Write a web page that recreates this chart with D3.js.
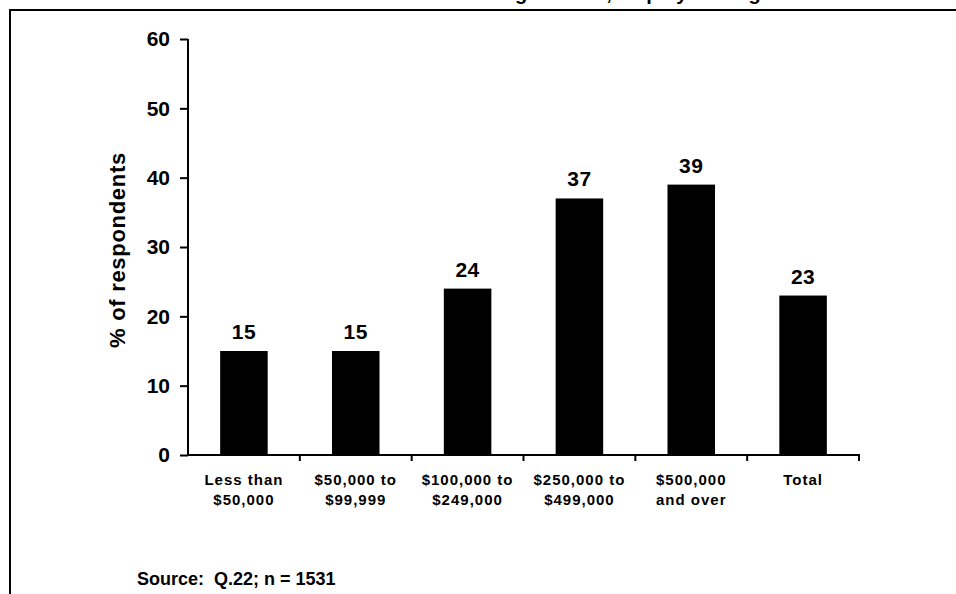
<!DOCTYPE html>
<html>
<head>
<meta charset="utf-8">
<script src="https://cdn.jsdelivr.net/npm/d3@7"></script>
<style>
  html, body { margin: 0; padding: 0; background: #fff; }
  svg { display: block; font-family: Arial, "Liberation Sans", sans-serif; font-weight: bold; }
</style>
</head>
<body>
<svg id="chart" width="956" height="594"></svg>
<script>
const categories = [
  ["Less than", "$50,000"],
  ["$50,000 to", "$99,999"],
  ["$100,000 to", "$249,000"],
  ["$250,000 to", "$499,000"],
  ["$500,000", "and over"],
  ["Total"]
];
const values = [15, 15, 24, 37, 39, 23];
const yTicks = [0, 10, 20, 30, 40, 50, 60];
const yTitle = "% of respondents";
const sourceText = "Source:  Q.22; n = 1531";
const titleText = "Percent using trainers, employer or agent";

(function () {
const svg = d3.select("#chart");
const W = 956, H = 594;
const mLeft = 188, mRight = 859, mTop = 39, mBottom = 455;

// frame
svg.append("path")
  .attr("d", `M${W + 10},10 H10 V${H + 10}`)
  .attr("fill", "none").attr("stroke", "#000").attr("stroke-width", 2);

// title (mostly above the visible area, as in the reference)
svg.append("text")
  .attr("x", 395).attr("y", 0)
  .attr("font-size", 20)
  .text(titleText);

const x = d3.scaleBand()
  .domain(d3.range(categories.length))
  .range([mLeft, mRight])
  .paddingInner(0.575)
  .paddingOuter(0.2875);

const y = d3.scaleLinear().domain([0, 60]).range([mBottom, mTop]);

// bars
svg.append("g").selectAll("rect")
  .data(values)
  .join("rect")
  .attr("x", (d, i) => x(i))
  .attr("width", x.bandwidth())
  .attr("y", d => y(d))
  .attr("height", d => y(0) - y(d))
  .attr("fill", "#000");

// value labels
svg.append("g").selectAll("text")
  .data(values)
  .join("text")
  .attr("x", (d, i) => x(i) + x.bandwidth() / 2)
  .attr("y", d => y(d) - 12)
  .attr("text-anchor", "middle")
  .attr("font-size", 21)
  .attr("letter-spacing", 0.5)
  .text(d => d);

// y axis
const yAxis = d3.axisLeft(y).tickValues(yTicks).tickSize(8).tickPadding(10);
const gy = svg.append("g").attr("transform", `translate(${mLeft},0)`).call(yAxis);
gy.select(".domain").attr("stroke-width", 2).attr("d", `M0,${mTop} V${mBottom}`);
gy.selectAll(".tick line").attr("stroke-width", 2);
gy.selectAll(".tick text")
  .attr("font-size", 21).attr("font-weight", "bold")
  .attr("font-family", "Arial, 'Liberation Sans', sans-serif")
  .attr("fill", "#000");

// x axis with ticks at band boundaries
const step = x.step();
const boundaries = d3.range(categories.length + 1).map(i => mLeft + i * step);
const gx = svg.append("g").attr("transform", `translate(0,${mBottom})`);
gx.append("line").attr("x1", mLeft - 1).attr("x2", mRight + 1)
  .attr("stroke", "#000").attr("stroke-width", 2);
gx.selectAll("line.tk").data(boundaries.slice(1)).join("line")
  .attr("class", "tk")
  .attr("x1", d => d).attr("x2", d => d)
  .attr("y1", 0).attr("y2", 6)
  .attr("stroke", "#000").attr("stroke-width", 2);

// category labels
const catG = svg.append("g");
categories.forEach((lines, i) => {
  const t = catG.append("text")
    .attr("x", x(i) + x.bandwidth() / 2)
    .attr("y", 485)
    .attr("text-anchor", "middle")
    .attr("font-size", 15)
    .attr("letter-spacing", 1);
  lines.forEach((ln, j) => {
    t.append("tspan")
      .attr("x", x(i) + x.bandwidth() / 2)
      .attr("dy", j === 0 ? 0 : 20)
      .text(ln);
  });
});

// y axis title
svg.append("text")
  .attr("transform", `translate(125,250) rotate(-90)`)
  .attr("text-anchor", "middle")
  .attr("font-size", 22)
  .attr("letter-spacing", 0.7)
  .text(yTitle);

// source
svg.append("text")
  .attr("x", 137).attr("y", 585)
  .attr("font-size", 18)
  .attr("xml:space", "preserve")
  .style("white-space", "pre")
  .text(sourceText);
})();
</script>
</body>
</html>
